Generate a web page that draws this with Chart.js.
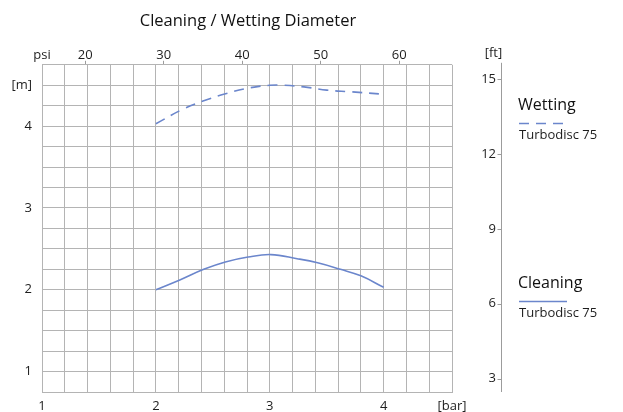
<!DOCTYPE html>
<html lang="en">
<head>
<meta charset="UTF-8">
<title>Cleaning / Wetting Diameter</title>
<script src="https://cdn.jsdelivr.net/npm/chart.js@4"></script>
<style>
  html, body { margin: 0; padding: 0; background: #fff; }
</style>
</head>
<body>
<canvas id="chart" width="623" height="412"></canvas>
<script>
const M_TO_FT = 3.28084;
const BAR_TO_PSI = 14.5038;

// curves: pressure [bar] -> diameter [m]
const wettingBar = [2.0, 2.24, 2.42, 2.62, 2.83, 3.0, 3.12, 3.30, 3.50, 3.71, 4.0];
const wettingM = [4.03, 4.21, 4.31, 4.40, 4.47, 4.50, 4.50, 4.48, 4.44, 4.42, 4.39];
const cleaningBar = [2.0, 2.21, 2.42, 2.61, 2.81, 3.01, 3.24, 3.42, 3.62, 3.80, 4.0];
const cleaningM = [2.0, 2.12, 2.25, 2.34, 2.40, 2.43, 2.38, 2.33, 2.25, 2.17, 2.03];

const barTicks = [1, 2, 3, 4];
const psiTicks = [20, 30, 40, 50, 60];
const mTicks = [1, 2, 3, 4];
const ftTicks = [3, 6, 9, 12, 15];
const seriesNames = ['Wetting', 'Cleaning'];
const modelName = 'Turbodisc 75';

const barMin = 1, barMax = 4.6, barStep = 0.2;
const mMin = 0.75, mMax = 4.75, mStep = 0.25;

const lineColor = '#6b86cc';
const gridColor = '#b4b4b4';
const textColor = '#1e1e1e';

Chart.defaults.font.family = '"Open Sans", sans-serif';
Chart.defaults.font.size = 13;
Chart.defaults.color = textColor;

function steps(min, max, step) {
  const out = [];
  for (let i = 0; min + i * step <= max + 1e-9; i++) {
    out.push(Math.round((min + i * step) * 1000) / 1000);
  }
  return out;
}
const near = (a, b) => Math.abs(a - b) < 1e-6;

// right-hand [ft] axis line and the legend
const extras = {
  id: 'extras',
  afterDraw(chart) {
    const ctx = chart.ctx;
    const ft = chart.scales.ft;
    const area = chart.chartArea;
    const ax = Math.round(ft.right + 5) + 0.5;
    ctx.save();
    ctx.strokeStyle = '#9c9c9c';
    ctx.lineWidth = 1;
    ctx.beginPath();
    ctx.moveTo(ax, area.top - 2);
    ctx.lineTo(ax, area.bottom);
    ftTicks.forEach(v => {
      const y = Math.round(ft.getPixelForValue(v)) + 0.5;
      ctx.moveTo(ax - 4, y);
      ctx.lineTo(ax, y);
    });
    ctx.stroke();

    ctx.fillStyle = textColor;
    ctx.font = '13px "Open Sans"';
    ctx.textAlign = 'center';
    ctx.textBaseline = 'middle';
    ctx.fillText('[ft]', ax - 8, 53);

    const lx = 518;
    const tops = [105, 283];
    chart.data.datasets.forEach((ds, i) => {
      const y = tops[i];
      ctx.textAlign = 'left';
      ctx.fillStyle = '#111';
      ctx.font = '16px "Open Sans"';
      ctx.fillText(ds.label, lx, y);
      ctx.strokeStyle = ds.borderColor;
      ctx.lineWidth = 1.5;
      ctx.setLineDash(ds.borderDash || []);
      ctx.beginPath();
      ctx.moveTo(lx + 1, y + 18.5);
      ctx.lineTo(lx + 49, y + 18.5);
      ctx.stroke();
      ctx.setLineDash([]);
      ctx.font = '13px "Open Sans"';
      ctx.fillStyle = textColor;
      ctx.fillText(modelName, lx + 1, y + 30);
    });
    ctx.restore();
  }
};

const toPoints = (xs, ys) => xs.map((x, i) => ({ x: x, y: ys[i] }));

new Chart(document.getElementById('chart'), {
  type: 'line',
  data: {
    datasets: [
      {
        label: seriesNames[0],
        data: toPoints(wettingBar, wettingM),
        borderColor: lineColor,
        borderWidth: 1.6,
        borderDash: [10, 7],
        pointRadius: 0,
        tension: 0.4,
        xAxisID: 'x',
        yAxisID: 'y'
      },
      {
        label: seriesNames[1],
        data: toPoints(cleaningBar, cleaningM),
        borderColor: lineColor,
        borderWidth: 1.6,
        pointRadius: 0,
        tension: 0.4,
        xAxisID: 'x',
        yAxisID: 'y'
      }
    ]
  },
  options: {
    responsive: false,
    animation: false,
    layout: { padding: { left: 0, right: 127, top: 0, bottom: 0 } },
    plugins: {
      legend: { display: false },
      tooltip: { enabled: false },
      title: {
        display: true,
        text: 'Cleaning / Wetting Diameter',
        color: '#111',
        font: { size: 16.5, weight: 'normal' },
        padding: { top: 11, bottom: 0 }
      }
    },
    scales: {
      x: {
        type: 'linear',
        position: 'bottom',
        min: barMin,
        max: barMax,
        afterBuildTicks: s => { s.ticks = steps(barMin, barMax, barStep).map(v => ({ value: v })); },
        afterFit: s => { s.height = 20; },
        grid: { color: gridColor, drawTicks: false },
        border: { color: gridColor },
        ticks: {
          autoSkip: false,
          maxRotation: 0,
          padding: 6,
          callback: v => barTicks.some(t => near(t, v)) ? String(v) : (near(v, barMax) ? '[bar]' : '')
        }
      },
      psi: {
        type: 'linear',
        position: 'top',
        min: barMin * BAR_TO_PSI,
        max: barMax * BAR_TO_PSI,
        afterBuildTicks: s => { s.ticks = [barMin * BAR_TO_PSI].concat(psiTicks).map(v => ({ value: v })); },
        afterFit: s => { s.height = 34; },
        grid: {
          drawOnChartArea: false,
          drawTicks: true,
          tickLength: 4,
          tickColor: c => c.index === 0 ? 'rgba(0,0,0,0)' : '#9c9c9c'
        },
        border: { display: false },
        ticks: {
          autoSkip: false,
          maxRotation: 0,
          padding: -2,
          callback: (v, i) => i === 0 ? 'psi' : String(v)
        }
      },
      y: {
        type: 'linear',
        position: 'left',
        min: mMin,
        max: mMax,
        afterBuildTicks: s => { s.ticks = steps(mMin, mMax, mStep).map(v => ({ value: v })); },
        afterFit: s => { s.width = 42; },
        grid: { color: gridColor, drawTicks: false },
        border: { color: gridColor },
        ticks: {
          autoSkip: false,
          padding: 10,
          callback: v => mTicks.some(t => near(t, v)) ? String(v) : (near(v, 4.5) ? '[m]' : '')
        }
      },
      ft: {
        type: 'linear',
        position: 'right',
        min: mMin * M_TO_FT,
        max: mMax * M_TO_FT,
        afterBuildTicks: s => { s.ticks = ftTicks.map(v => ({ value: v })); },
        afterFit: s => { s.width = 44; },
        grid: { display: false, drawTicks: false },
        border: { display: false },
        ticks: { autoSkip: false, padding: 0, crossAlign: 'far' }
      }
    }
  },
  plugins: [extras]
});
</script>
</body>
</html>
